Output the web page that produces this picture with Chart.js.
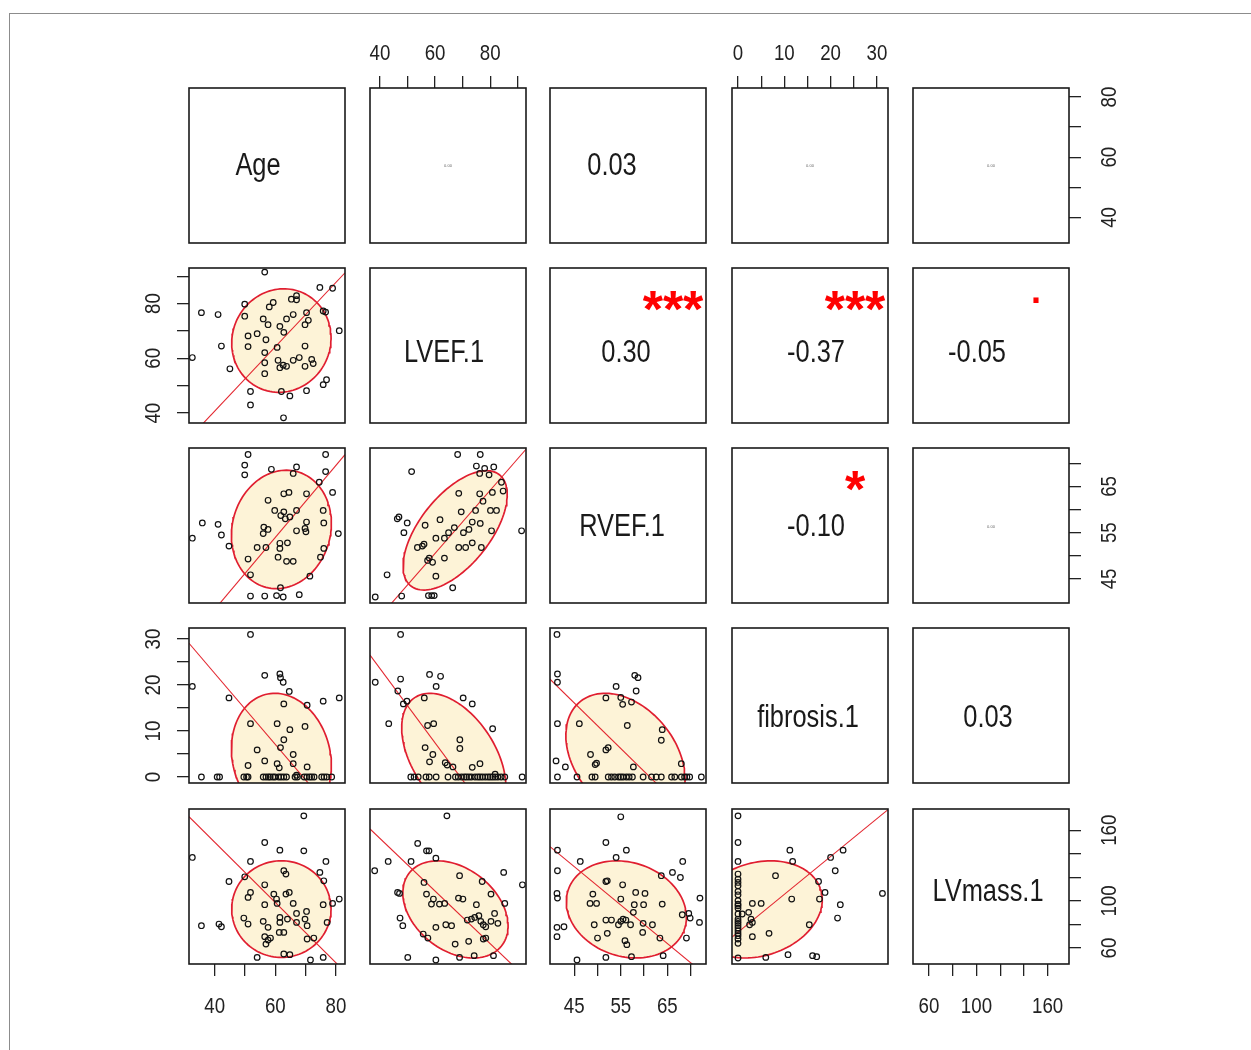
<!DOCTYPE html>
<html>
<head>
<meta charset="utf-8">
<script src="https://cdn.jsdelivr.net/npm/chart.js@4.4.0/dist/chart.umd.min.js"></script>
<style>
  html, body { margin: 0; padding: 0; background: #fff; }
  #page { position: relative; width: 1251px; height: 1050px; overflow: hidden; background: #fff; }
  #frame { position: absolute; left: 9px; top: 13px; width: 1300px; height: 1100px;
           border-top: 1px solid #8c8c8c; border-left: 1px solid #8c8c8c; }
  #page canvas { position: absolute; }
</style>
</head>
<body>
<div id="page"><div id="frame"></div></div>

<script>
  // variables in pairs() order, with their axis ranges and ticks
  const varNames = ['Age', 'LVEF.1', 'RVEF.1', 'fibrosis.1', 'LVmass.1'];
  const varMin = [31.5, 36.4, 39.8, -1.3, 46.5];
  const varMax = [83, 93, 73.3, 32.4, 178];
  const ageTicks = [40, 50, 60, 70, 80];
  const lvefTicks = [40, 50, 60, 70, 80, 90];
  const rvefTicks = [45, 50, 55, 60, 65, 70];
  const fibTicks = [0, 5, 10, 15, 20, 25, 30];
  const massTicks = [60, 80, 100, 120, 140, 160];
  const ageLabels = [40, 60, 80];
  const lvefLabels = [40, 60, 80];
  const rvefLabels = [45, 55, 65];
  const fibLabels = [0, 10, 20, 30];
  const massLabels = [60, 100, 160];
  const varTicks = [ageTicks, lvefTicks, rvefTicks, fibTicks, massTicks];
  const varLabels = [ageLabels, lvefLabels, rvefLabels, fibLabels, massLabels];

  // lower panels: [x, y] per subject
  const ageLvef = [[56.5,91.5],[74.7,85.9],[78.9,85.6],[49.9,79.8],[58,78.8],[59.3,80.4],[65.3,81.6],[67,82.9],[67,81.4],
    [35.6,76.7],[41.1,76],[49.9,75.4],[56,74.4],[63.7,74.4],[65.9,76],[70.3,76.7],[75.8,77.3],[76.6,76.9],[57.6,72.3],
    [61.5,71.7],[69.8,72.3],[70.9,73.9],[62.8,69.5],[81.1,70.1],[51,68.2],[54,69],[56.9,66.8],[51,64.3],[42.2,64.5],
    [60.6,64],[69.8,64.5],[32.6,60.3],[56.5,62.1],[60.9,59.3],[62.6,57.5],[63.7,57.1],[61.5,56.6],[65.9,59.3],[67.9,60.3],
    [72,59.6],[72.5,58.1],[69.8,57.1],[45,56.2],[56.5,58.4],[56.5,54.4],[76.9,52.2],[75.8,50.4],[51.8,47.9],[62,47.9],
    [64.8,46.3],[70.3,48.2],[51.8,43],[62.7,38.3]];
  const ageRvef = [[51,71.9],[76.6,71.9],[49.9,69.6],[49.9,67.5],[58.7,68.7],[67,69.2],[65.9,67.8],[76.6,68.2],[74.5,65.9],
    [78.9,63.7],[62.8,63.4],[64.5,63.7],[70.3,63.4],[57.6,62],[59.8,59.8],[61.8,58.7],[63.3,58],[62.8,59.5],[64.8,58.4],
    [67,59.8],[75.8,59.8],[76,57.1],[70.3,57.3],[69.8,55.9],[70.1,55.2],[67,55.4],[56.2,56.2],[57.6,55.7],[56,54.8],
    [35.9,57.1],[41.1,56.8],[42.2,54.5],[32.6,53.8],[44.7,52.1],[54,51.8],[56.9,51.8],[61.5,52.7],[61.5,51.6],[64,52.8],
    [60.9,49.7],[63.7,48.8],[65.9,48.8],[51,49.3],[76,51.6],[74.9,49.7],[80.8,54.8],[51.8,45.9],[71.4,45.6],[61.7,43.1],
    [51.8,41.3],[56.5,41.3],[60.4,41.4],[62.6,41.1],[67.9,41.6]];
  const lvefRvef = [[68.2,71.9],[76.4,71.9],[51.5,68.2],[75,69.4],[78,68.9],[81.3,69.2],[76.2,67.8],[79.6,67.5],[84.1,65.9],
    [84.7,64],[68.6,63.5],[76.2,63.4],[80.8,63.7],[77.4,61.8],[74.7,59.8],[80.1,59.8],[82.3,59.8],[69.5,59.5],[61.8,57.8],
    [46.9,58.4],[46.3,58],[49.9,57.1],[56.4,56.6],[73.5,57.3],[76.4,57],[67,56.1],[70.3,55],[72.3,55.7],[64.9,55],
    [80.5,55.4],[48.7,55],[73.5,52.8],[60.3,53.8],[63.4,53.8],[56,52.5],[55.4,52.1],[53.6,51.8],[68.6,51.8],[71.1,51.8],
    [76.8,51.8],[91.4,55.4],[57.3,49],[59.1,48.6],[63.4,49.5],[57.9,49.5],[42.6,45.9],[60.3,45.6],[66.4,43.1],[38.3,41.1],
    [47.9,41.3],[57.6,41.4],[58.8,41.4],[59.7,41.4]];
  const ageFib = [[51.8,31],[56.5,22.1],[61.5,22.4],[61.7,21.6],[62.6,20.6],[32.6,19.7],[64.6,18.6],[44.7,17.2],[62.8,15.9],
    [70.5,15.6],[75.8,16.5],[81.1,17.2],[51.8,11.6],[60.6,11.6],[64.8,10.3],[69.8,11],[62.8,8.1],[54,5.9],[61.7,6.4],
    [65.9,4.9],[56.5,3.5],[51,2.5],[60.6,2.9],[61.3,2],[65.9,2.9],[70.5,2.2],[67,0.4],
    [35.6,0],[40.8,0],[41.6,0],[49.6,0],[50.5,0],[51,0],[56,0],[56.9,0],[57.7,0],[58.3,0],[59.2,0],[59.9,0],[61.1,0],
    [61.9,0],[62.8,0],[63.7,0],[66.5,0],[67.3,0],[69.5,0],[70.4,0],[71.3,0],[72,0],[72.8,0],[75.3,0],[76.1,0],[77,0],[78.6,0]];
  const lvefFib = [[47.5,31],[58,22.3],[62,21.9],[47.5,21.3],[38.3,20.6],[60.4,19.7],[46.5,18.7],[56.1,17.2],[48.5,15.9],
    [49.8,16.5],[70.2,17.2],[73.5,15.9],[43.2,11.6],[57.3,11.2],[59.5,11.6],[80.9,10.5],[69,8.1],[69,6.2],[56.4,6.4],
    [59.2,4.9],[58,3.3],[63.7,3.1],[64.4,2.6],[66.5,2.2],[73.5,2.1],[76.3,2.9],[81.8,0.6],
    [51.2,0],[52.4,0],[53.9,0],[56.7,0],[57.9,0],[60.4,0],[64.7,0],[67.4,0],[68.4,0],[69.6,0],[70.6,0],[71.4,0],[72.3,0],
    [73.2,0],[74.5,0],[75.5,0],[76.3,0],[77.2,0],[78.2,0],[79.2,0],[80,0],[80.9,0],[81.8,0],[82.8,0],[84,0],[85.3,0],[91.6,0]];
  const rvefFib = [[41.3,31],[41.4,22.4],[41.4,20.6],[58,22.1],[58.7,21.6],[58.3,18.7],[54,19.7],[51.8,17.2],[55,17.3],
    [55.4,15.8],[57.3,16.3],[41.4,11.6],[46.1,11.6],[56.4,11.2],[63.9,10.3],[63.7,8],[48.5,4.9],[51.8,5.9],[52.3,6.4],
    [49.5,2.7],[49.8,3],[41.1,3.5],[43.1,2.2],[57.7,2.2],[68,2.9],
    [41.4,0],[45.6,0],[48.8,0],[49.5,0],[52.3,0],[53,0],[53.7,0],[54.5,0],[55,0],[55.5,0],[56.2,0],[56.8,0],[57.5,0],
    [59.8,0],[61.6,0],[62.6,0],[63.7,0],[65.9,0],[66.6,0],[68,0],[68.7,0],[69.2,0],[69.8,0],[72.3,0]];
  const ageMass = [[69.4,172.2],[32.6,136.9],[56.5,149.6],[61.5,143.1],[69.4,142.5],[51.8,133.5],[76.7,133.5],[62.8,125.6],
    [63.5,122.8],[74.7,124.2],[76,117.1],[49.9,120.5],[44.7,116.5],[56.5,113.7],[51.8,107.2],[51,103],[59.5,105.8],
    [60.4,101.6],[63.5,105.8],[64.6,107.2],[65.9,97.9],[60.6,97.9],[56.5,96.8],[75.8,96.8],[78.9,97.9],[81.1,101.6],
    [67,89.4],[70.3,91.1],[61.5,86],[64,84.6],[61.5,81.8],[67,81.8],[69.8,84.6],[70.5,79],[49.6,85.5],[51,80.4],[56,82.7],
    [57.6,77.6],[77.1,81.8],[35.6,79],[41.4,80.4],[42.2,78.1],[61.3,73.3],[62.8,73.3],[56.5,69.7],[57.6,66.8],[56.9,63.4],
    [58.4,68.5],[70.5,67.7],[72.7,68.5],[62.8,55],[64.8,54.4],[54,52.1],[71.6,49.9],[75.8,52.1]];
  const lvefMass = [[64.3,172.2],[53.7,148.8],[56.9,142.5],[57.8,142.5],[60.3,136.3],[38.1,125.6],[43,133.5],[51.3,133.5],
    [68.9,121.4],[77.1,116.5],[84.9,124.2],[91.7,113.7],[56,115.7],[46.4,107.2],[47.1,106.4],[56.9,105.8],[59.4,101.6],
    [58.7,97.3],[61.6,97.3],[63.5,97.9],[68.5,102.4],[70.1,101.6],[75,96.8],[80.3,105.8],[85.3,97.9],[47.3,85.5],[48.3,79],
    [60.3,77.6],[63.9,79.8],[66,79],[71.7,83.8],[73.2,84.6],[74.4,86],[75.9,87.5],[76.6,82.7],[77.5,79.8],[78.4,78.1],
    [80.3,82.7],[81.6,89.4],[82.8,81],[55.7,71.9],[57.4,68.5],[67.3,63.4],[72.2,65.7],[77.5,67.7],[78.4,68.5],[68.9,52.1],
    [74.2,53.6],[81.2,53.6],[60.3,49.9],[50.1,52.1]];
  const rvefMass = [[55,171.4],[51.8,149.6],[56.2,143.1],[41.4,143.1],[46.3,133.5],[54,136.9],[68.3,133.5],[41.4,125.6],
    [63.7,121.4],[66.1,124.2],[67.8,119.9],[51.8,116.5],[52.1,117.1],[55.4,113.7],[41.3,106.4],[41.4,102.4],[49,105.8],
    [58.2,107.2],[60.2,106.4],[72,102.4],[48.4,97.9],[49.8,97.9],[55,101.6],[57.9,96.8],[59.9,96.8],[63.9,97.3],[57.7,90.3],
    [68.2,88.3],[69.6,89.4],[69.9,85.5],[71.9,81.8],[49.3,79.8],[51.8,83.8],[53,83.8],[54.5,79.8],[55,82.7],[55.5,84.6],
    [56.1,83.8],[57.1,79.8],[59.8,81],[61.8,79.8],[41.3,77.6],[42.8,78.1],[41.3,69.7],[52.1,72.5],[59.7,73.3],[63.4,68.5],
    [50,68.5],[55.9,66.3],[56.3,62.9],[69.1,68.5],[45.6,49.9],[51.8,52.1],[57.3,52.7],[64.1,53.6]];
  const fibMass = [[0,172.2],[0,149.6],[0,133.5],[0,122.8],[0,118.5],[0,115.7],[0,112.9],[0,108.1],[0,105.2],[0,100.2],
    [0,97.3],[0,95.9],[0,93.9],[0,88.9],[0,84.6],[0,82.7],[0,81],[0,79],[0,77],[0,74.7],[0,72.5],[0,70.5],[0,67.7],[0,64],
    [0,51.6],[11.2,143.1],[11.8,133.5],[8.1,121.4],[20,136.9],[22.7,143.1],[21,125.6],[17.4,116.5],[18.8,107.2],
    [17.6,101.6],[31.2,106.4],[22.1,96.8],[21.5,85.5],[0.9,88.9],[2.3,90.3],[3.1,97.9],[5,97.9],[2.8,84.6],[3.1,81.8],
    [2.5,79.8],[11.6,101.6],[15.4,79.8],[6.7,72.5],[3.1,69.7],[10.8,54.4],[16.1,53.6],[17,52.7],[6,52.1]];

  // lower panel order: [row, col]
  const lowerCells = [[1,0],[2,0],[2,1],[3,0],[3,1],[3,2],[4,0],[4,1],[4,2],[4,3]];
  const lowerPoints = [ageLvef, ageRvef, lvefRvef, ageFib, lvefFib, rvefFib, ageMass, lvefMass, rvefMass, fibMass];
  // fitted line per lower panel
  const fitSlope = [1.174, 0.778, 0.682, -0.772, -0.808, -0.991, -2.554, -2.233, -3.262, 3.21];
  const fitIntercept = [-6.2, 7.3, 9.6, 53.4, 55.9, 60.7, 251.9, 242.4, 275.9, 73.5];
  // correlation ellipse per lower panel: centre, half extents, r
  const ellCx = [62.0, 62.0, 67.3, 62.0, 66.8, 56.0, 62.0, 67.4, 56.2, 4.3];
  const ellCy = [66.5, 55.7, 55.5, 4.3, 4.3, 4.3, 93.1, 92.8, 92.8, 92.8];
  const ellHx = [16.4, 16.5, 18.9, 16.5, 18.9, 12.8, 16.4, 19.1, 12.9, 13.9];
  const ellHy = [18.9, 12.8, 12.9, 13.9, 13.9, 13.9, 41.0, 41.2, 41.2, 41.2];
  const ellR = [0.05, 0.1, 0.6, -0.13, -0.46, -0.34, 0.0, -0.34, -0.16, 0.2];

  // upper panels: correlation text and stars
  const corCells = [[0,1],[0,2],[0,3],[0,4],[1,2],[1,3],[1,4],[2,3],[2,4],[3,4]];
  const corLabels = ['0.00', '0.03', '0.00', '0.00', '0.30', '-0.37', '-0.05', '-0.10', '0.00', '0.03'];
  const corTiny = [true, false, true, true, false, false, false, false, true, false];
  const corStars = ['', '', '', '', '***', '***', '.', '*', '', ''];

  // layout (pixels)
  const M = 60, W = 156, H = 155;
  const colLeft = [189, 370, 550, 732, 913];
  const rowTop = [88, 268, 448, 628, 809];
  const diagDx = [-9, -4, -6, -2, -3], diagDy = [-2, 5, -1, 10, 3];
  const corDx = [0, -16, 0, 0, -2, 6, -14, 6, 0, -3], corDy = [0, -2, 0, 0, 5, 5, 5, -1, 1, 10];
  const FONT = '"Liberation Sans", Arial, Helvetica, sans-serif';

  function drawText(ctx, str, x, y, size, color, squeeze, weight, rot) {
    ctx.save();
    ctx.font = (weight || 'normal') + ' ' + size + 'px ' + FONT;
    ctx.fillStyle = color;
    ctx.textAlign = 'center';
    ctx.textBaseline = 'alphabetic';
    const m = ctx.measureText(str);
    const asc = m.actualBoundingBoxAscent, desc = Math.min(m.actualBoundingBoxDescent, 0);
    ctx.translate(x, y);
    if (rot) ctx.rotate(rot);
    ctx.scale(squeeze, 1);
    ctx.fillText(str, 0, (asc - desc) / 2);
    ctx.restore();
  }

  function ellipsePts(k) {
    const d = Math.acos(ellR[k]);
    const pts = [];
    for (let i = 0; i <= 120; i++) {
      const t = i / 120 * 2 * Math.PI;
      pts.push({ x: ellCx[k] + ellHx[k] * Math.cos(t + d / 2), y: ellCy[k] + ellHy[k] * Math.cos(t - d / 2) });
    }
    return pts;
  }

  function axisCfg(v, pos, isX) {
    return {
      type: 'linear', min: varMin[v], max: varMax[v],
      display: !!pos, position: pos || (isX ? 'bottom' : 'left'),
      grid: { drawOnChartArea: false, drawTicks: true, tickLength: 12, color: '#222', lineWidth: 1.3 },
      border: { display: false },
      ticks: { display: false },
      afterBuildTicks: s => { s.ticks = varTicks[v].map(t => ({ value: t })); },
      afterFit: s => {
        if (!pos) return;
        if (isX) s.height = M; else s.width = M;
      }
    };
  }

  function drawPanel(chart, r, c, xPos, yPos) {
    const ctx = chart.ctx, a = chart.chartArea;
    const cx = (a.left + a.right) / 2, cy = (a.top + a.bottom) / 2;

    if (xPos) {
      const s = chart.scales.x;
      varLabels[c].forEach(v => {
        const y = xPos === 'top' ? a.top - 36 : a.bottom + 41;
        drawText(ctx, String(v), s.getPixelForValue(v), y, 22, '#222', 0.85);
      });
    }
    if (yPos) {
      const s = chart.scales.y;
      varLabels[r].forEach(v => {
        const x = yPos === 'left' ? a.left - 37 : a.right + 39;
        drawText(ctx, String(v), x, s.getPixelForValue(v), 22, '#222', 0.85, 'normal', -Math.PI / 2);
      });
    }
    if (r === c) {
      drawText(ctx, varNames[r], cx + diagDx[r], cy + diagDy[r], 31, '#1a1a1a', 0.82);
    }
    const k = corCells.findIndex(p => p[0] === r && p[1] === c);
    if (k >= 0) {
      if (corTiny[k]) {
        drawText(ctx, corLabels[k], cx, cy + corDy[k], 4, '#666', 1);
      } else {
        drawText(ctx, corLabels[k], cx + corDx[k], cy + corDy[k], 31, '#1a1a1a', 0.82);
      }
      if (corStars[k] === '.') {
        drawText(ctx, corStars[k], cx + 45, cy - 46, 36, '#ff0000', 1, 'bold');
      } else if (corStars[k]) {
        drawText(ctx, corStars[k], cx + 45, cy - 45, 52, '#ff0000', 1, 'bold');
      }
    }

    ctx.save();
    ctx.strokeStyle = '#1a1a1a';
    ctx.lineWidth = 1.6;
    ctx.strokeRect(a.left, a.top, a.right - a.left, a.bottom - a.top);
    ctx.restore();
  }

  function makePanel(r, c) {
    const xPos = (r === 0 && c % 2 === 1) ? 'top' : (r === 4 && c % 2 === 0) ? 'bottom' : null;
    const yPos = (c === 0 && r % 2 === 1) ? 'left' : (c === 4 && r % 2 === 0) ? 'right' : null;

    const cv = document.createElement('canvas');
    cv.width = W + 2 * M; cv.height = H + 2 * M;
    cv.style.width = cv.width + 'px'; cv.style.height = cv.height + 'px';
    cv.style.left = (colLeft[c] - M) + 'px'; cv.style.top = (rowTop[r] - M) + 'px';
    document.getElementById('page').appendChild(cv);

    const datasets = [];
    const k = lowerCells.findIndex(p => p[0] === r && p[1] === c);
    if (k >= 0) {
      datasets.push({
        data: lowerPoints[k].map(p => ({ x: p[0], y: p[1] })),
        showLine: false, pointStyle: 'circle', pointRadius: 2.8, pointBorderWidth: 1.2,
        pointBorderColor: '#111', pointBackgroundColor: 'rgba(0,0,0,0)', order: 0
      });
      const x0 = varMin[c], x1 = varMax[c];
      datasets.push({
        data: [{ x: x0, y: fitIntercept[k] + fitSlope[k] * x0 }, { x: x1, y: fitIntercept[k] + fitSlope[k] * x1 }],
        borderColor: '#e3262f', borderWidth: 1.1, pointRadius: 0, clip: 0, order: 1
      });
      datasets.push({
        data: ellipsePts(k), borderColor: '#e01e30', borderWidth: 1.7, backgroundColor: '#fdf3d7',
        fill: 'shape', pointRadius: 0, tension: 0, clip: 0, order: 2
      });
    }

    new Chart(cv, {
      type: 'line',
      data: { datasets },
      options: {
        responsive: false, animation: false, events: [],
        layout: {
          autoPadding: false,
          padding: { left: yPos === 'left' ? 0 : M, right: yPos === 'right' ? 0 : M,
                     top: xPos === 'top' ? 0 : M, bottom: xPos === 'bottom' ? 0 : M }
        },
        plugins: { legend: { display: false }, tooltip: { enabled: false } },
        scales: { x: axisCfg(c, xPos, true), y: axisCfg(r, yPos, false) }
      },
      plugins: [{ id: 'panelText', afterDraw: chart => drawPanel(chart, r, c, xPos, yPos) }]
    });
  }

  for (let r = 0; r < 5; r++) {
    for (let c = 0; c < 5; c++) makePanel(r, c);
  }
</script>
</body>
</html>
